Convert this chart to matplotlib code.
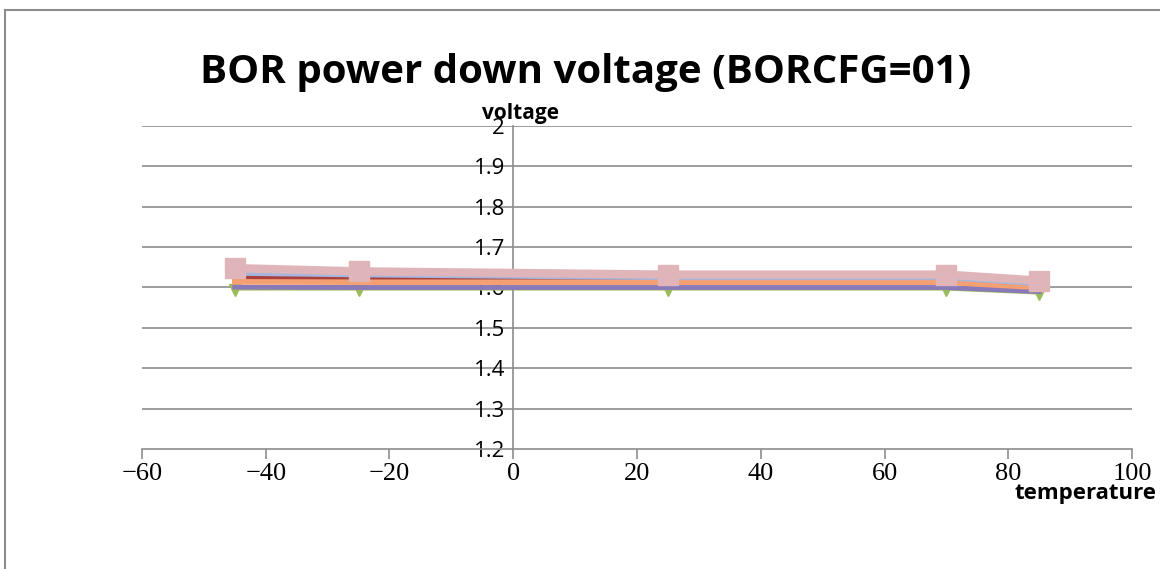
import matplotlib
matplotlib.use("Agg")
import matplotlib.pyplot as plt
from matplotlib.lines import Line2D

# temperature points (deg C)
temps = [-45, -25, 25, 70, 85]

# measured voltages, one list per sample
v_blue = [1.630, 1.622, 1.615, 1.615, 1.600]
v_red = [1.625, 1.623, 1.618, 1.618, 1.605]
v_orange = [1.614, 1.613, 1.613, 1.613, 1.600]
v_lightblue = [1.636, 1.632, 1.625, 1.625, 1.610]
v_purple = [1.601, 1.600, 1.600, 1.600, 1.590]
v_green = [1.595, 1.595, 1.595, 1.595, 1.585]
v_pink = [1.648, 1.640, 1.632, 1.632, 1.617]

x_ticks = [-60, -40, -20, 0, 20, 40, 60, 80, 100]
y_ticks = [1.2, 1.3, 1.4, 1.5, 1.6, 1.7, 1.8, 1.9, 2.0]
y_labels = ["1.2", "1.3", "1.4", "1.5", "1.6", "1.7", "1.8", "1.9", "2"]

fig = plt.figure(figsize=(11.6, 5.69), dpi=100)
ax = fig.add_axes([0.1224, 0.2109, 0.8535, 0.5677])

grid_c = "#8c8c8c"
for y in y_ticks[1:]:
    ax.axhline(y, color=grid_c, lw=1.2, zorder=1)

ax.plot(temps, v_green, color="#9bbb59", lw=1.5, marker="v", ms=9, zorder=2)
ax.plot(temps, v_purple, color="#8a79b8", lw=3.5, zorder=3)
ax.plot(temps, v_blue, color="#2f3d7a", lw=3.5, zorder=3)
ax.plot(temps, v_red, color="#a8403e", lw=3.5, zorder=4)
ax.plot(temps, v_orange, color="#f5a072", lw=4, zorder=5)
ax.plot(temps, v_lightblue, color="#a6b5dc", lw=4, zorder=5)
ax.plot(temps, v_pink, color="#e0b5ba", lw=6, marker="s", ms=15, zorder=6)

for s in ["top", "right"]:
    ax.spines[s].set_visible(False)
ax.spines["left"].set_position(("data", 0))
ax.spines["left"].set_color(grid_c)
ax.spines["left"].set_linewidth(1.2)
ax.spines["bottom"].set_color(grid_c)
ax.spines["bottom"].set_linewidth(1.2)

ax.set_xlim(-60, 100)
ax.set_ylim(1.2, 2.0)
ax.set_xticks(x_ticks)
ax.set_xticklabels([str(t).replace("-", "\u2212") for t in x_ticks],
                   fontfamily="Liberation Serif", fontsize=19)
ax.set_yticks(y_ticks)
ax.set_yticklabels(y_labels, fontfamily="Open Sans", fontsize=16)

ax.tick_params(axis="x", direction="out", length=7, color=grid_c, width=1.2, pad=3)
ax.tick_params(axis="y", length=0, pad=6)

ax.text(1.2, 2.005, "voltage", transform=ax.transData, ha="center", va="bottom",
        fontfamily="Open Sans", fontweight="bold", fontsize=15)
fig.text(0.997, 0.132, "temperature", ha="right", va="center",
         fontfamily="Open Sans", fontweight="bold", fontsize=16)
fig.text(0.505, 0.872, "BOR power down voltage (BORCFG=01)", ha="center", va="center",
         fontfamily="Open Sans", fontweight="bold", fontsize=29)

# chart frame (top and left edges visible in the crop)
fig.add_artist(Line2D([0.0045, 1.0], [0.982, 0.982], transform=fig.transFigure,
                      color="#8c8c8c", lw=1.5))
fig.add_artist(Line2D([0.0045, 0.0045], [0.0, 0.982], transform=fig.transFigure,
                      color="#8c8c8c", lw=1.5))

fig.savefig("out.png", dpi=100)
